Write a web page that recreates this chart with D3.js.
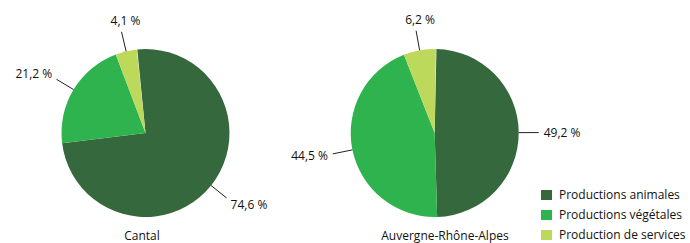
<!DOCTYPE html>
<html>
<head>
<meta charset="utf-8">
<script src="https://cdn.jsdelivr.net/npm/d3@7"></script>
<style>
  body { margin: 0; background: #fff; }
  svg { display: block; font-family: "Open Sans", "Noto Sans", sans-serif; }
  text { fill: #111; font-size: 12px; }
</style>
</head>
<body>
<div id="chart"></div>
<script>
// data
var categories = ["Productions animales", "Productions végétales", "Production de services"];
var regions = ["Cantal", "Auvergne-Rhône-Alpes"];
var cantalValues = [74.6, 21.2, 4.1];
var araValues = [49.2, 44.5, 6.2];
var colors = ["#35683d", "#2eb34e", "#bdd95b"];

var width = 690, height = 243;
var radius = 84;

var svg = d3.select("#chart").append("svg")
    .attr("width", width)
    .attr("height", height);

var color = d3.scaleOrdinal().domain(categories).range(colors);
var fmt = function(v) { return d3.format(".1f")(v).replace(".", ",") + " %"; };

// one pie per region
var pies = [
    { name: regions[0], values: cantalValues, cx: 145.5, cy: 133, start: -5.6, titleX: 142 },
    { name: regions[1], values: araValues, cx: 434.7, cy: 133, start: 1.2, titleX: 445 }
];

var arc = d3.arc().innerRadius(0).outerRadius(radius);

pies.forEach(function(p) {
    var a0 = p.start * Math.PI / 180;
    var pie = d3.pie().sort(null)
        .startAngle(a0)
        .endAngle(a0 + 2 * Math.PI * d3.sum(p.values) / 100)
        .value(function(d) { return d.value; });

    var data = p.values.map(function(v, i) { return { key: categories[i], value: v }; });
    var g = svg.append("g").attr("transform", "translate(" + p.cx + "," + p.cy + ")");
    var slices = pie(data);

    g.selectAll("path")
        .data(slices)
        .enter().append("path")
        .attr("d", arc)
        .attr("fill", function(d) { return color(d.data.key); });

    // leader lines + labels
    slices.forEach(function(d) {
        var m = (d.startAngle + d.endAngle) / 2;
        var ux = Math.sin(m), uy = -Math.cos(m);
        var x1 = ux * radius, y1 = uy * radius;
        var x2 = ux * (radius + 20), y2 = uy * (radius + 20);
        g.append("line")
            .attr("x1", x1).attr("y1", y1)
            .attr("x2", x2).attr("y2", y2)
            .attr("stroke", "#222")
            .attr("stroke-width", 1);

        var anchor = ux > 0.5 ? "start" : (ux < -0.5 ? "end" : "middle");
        var tx = x2 + ux * 5;
        if (anchor == "middle") tx = x2 + 4;
        var ty = y2 + uy * 5 + uy * 6;
        g.append("text")
            .attr("x", tx)
            .attr("y", ty)
            .attr("dy", "0.35em")
            .attr("text-anchor", anchor)
            .text(fmt(d.data.value));
    });

    svg.append("text")
        .attr("x", p.titleX)
        .attr("y", 240)
        .attr("text-anchor", "middle")
        .text(p.name);
});

// legend
var legend = svg.append("g").attr("transform", "translate(541,190)");
var item = legend.selectAll("g")
    .data(categories)
    .enter().append("g")
    .attr("transform", function(d, i) { return "translate(0," + (i * 20) + ")"; });

item.append("rect")
    .attr("width", 11)
    .attr("height", 10)
    .attr("fill", function(d) { return color(d); });

item.append("text")
    .attr("x", 18)
    .attr("y", 5)
    .attr("dy", "0.35em")
    .text(function(d) { return d; });
</script>
</body>
</html>
